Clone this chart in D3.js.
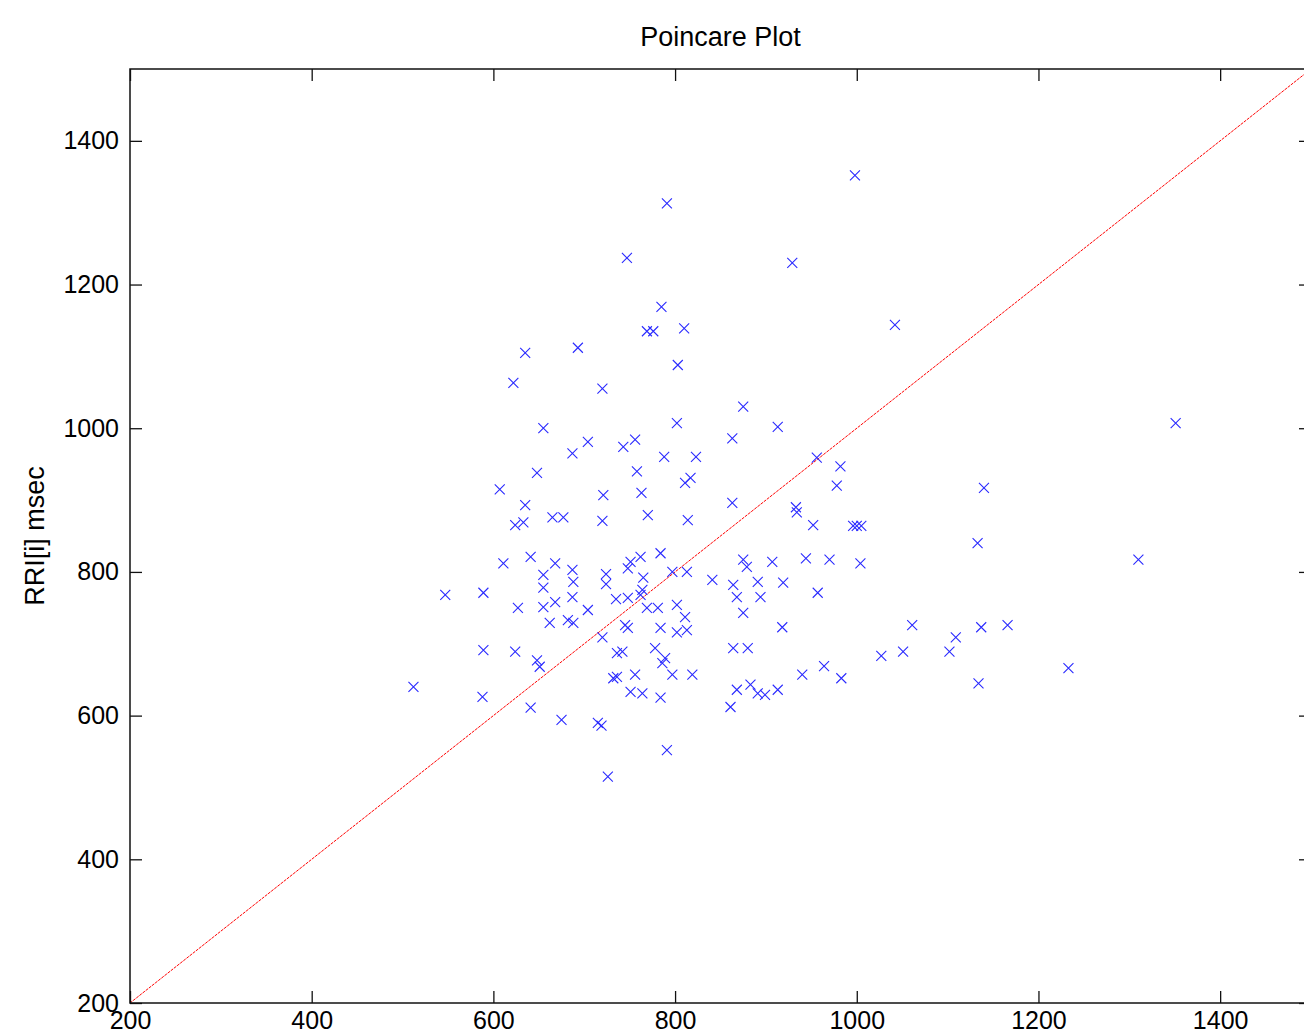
<!DOCTYPE html>
<html>
<head>
<meta charset="utf-8">
<script src="https://cdn.jsdelivr.net/npm/d3@7"></script>
<style>
body { margin: 0; background: #fff; }
svg { display: block; }
text { font-family: "Liberation Sans", Arial, Helvetica, sans-serif; fill: #000; }
</style>
</head>
<body>
<svg width="1304" height="1029"></svg>
<script>
// RR interval pairs: rrI = RRI[i-1] (x), rrNext = RRI[i] (y), msec
var rrI = [998,791,747,929,785,1042,769,776,810,635,
    693,803,622,720,875,802,655,913,1351,704,
    756,863,743,687,788,823,956,982,758,648,
    817,811,978,607,1140,763,721,863,635,933,
    934,770,665,677,624,633,720,814,952,996,
    1000,1005,1133,641,611,668,784,762,751,944,
    970,875,879,907,1004,1310,748,687,724,724,
    797,813,655,688,655,841,864,891,919,765,
    764,762,748,735,687,668,704,547,589,627,
    655,769,781,802,868,894,957,875,811,813,
    802,784,745,748,662,682,688,720,918,1061,
    1109,1137,1166,736,589,624,648,651,742,778,
    789,786,864,880,1027,1051,1102,1233,964,940,
    983,512,588,732,736,756,797,819,751,764,
    784,868,883,891,899,913,861,1134,641,675,
    715,719,791,726];
var rrNext = [1352,1313,1237,1230,1169,1144,1135,1135,1139,1105,
    1112,1088,1063,1055,1030,1007,1000,1002,1007,981,
    984,986,974,965,960,960,959,947,940,938,
    931,924,920,915,917,910,907,896,893,890,
    883,879,876,876,865,869,871,872,865,864,
    864,864,840,821,812,812,826,821,814,819,
    817,817,807,814,812,817,805,803,797,783,
    800,800,796,786,778,789,782,786,785,792,
    775,768,764,762,765,758,747,768,771,750,
    751,750,750,754,765,765,771,743,737,719,
    716,722,726,722,729,733,729,709,723,726,
    709,723,726,687,691,689,677,668,689,694,
    680,673,694,694,683,689,689,666,669,657,
    652,640,626,652,654,657,657,657,633,631,
    625,636,643,631,629,636,612,645,611,594,
    590,586,552,515];
var xTicks = [200, 400, 600, 800, 1000, 1200, 1400];
var yTicks = [200, 400, 600, 800, 1000, 1200, 1400];
var identity = [200, 1500];

var svg = d3.select("svg");
var plotL = 130, plotT = 69, plotR = 1311, plotB = 1003;

var x = d3.scaleLinear().domain([200, 1500]).range([plotL, plotR]);
var y = d3.scaleLinear().domain([200, 1500]).range([plotB, plotT]);
var fmt = d3.format("d");

var points = rrI.map(function (d, i) { return { x: d, y: rrNext[i] }; });

// identity line
svg.append("line")
    .attr("x1", x(identity[0])).attr("y1", y(identity[0]))
    .attr("x2", x(identity[1])).attr("y2", y(identity[1]))
    .attr("stroke", "#ff0000").attr("stroke-width", 1)
    .attr("stroke-dasharray", "3,1");

// x markers
svg.append("g").selectAll("path")
    .data(points)
    .enter().append("path")
    .attr("transform", function (d) { return "translate(" + x(d.x) + "," + y(d.y) + ")"; })
    .attr("d", "M-5,-5L5,5M-5,5L5,-5")
    .attr("fill", "none")
    .attr("stroke", "#2a2aff")
    .attr("stroke-width", 1.1);

// axes, ticks pointing inward
function styleAxis(g) {
    g.select(".domain").remove();
    g.selectAll(".tick line").attr("stroke", "#111").attr("stroke-width", 1.3);
    g.selectAll(".tick text").attr("font-size", 25).attr("fill", "#000").attr("font-family", null);
}

svg.append("g").attr("transform", "translate(0," + plotB + ")")
    .call(d3.axisBottom(x).tickValues(xTicks).tickFormat(fmt).tickSize(-12).tickSizeOuter(0).tickPadding(8))
    .call(styleAxis);
svg.append("g").attr("transform", "translate(" + plotL + ",0)")
    .call(d3.axisLeft(y).tickValues(yTicks).tickFormat(fmt).tickSize(-12).tickSizeOuter(0).tickPadding(11))
    .call(styleAxis);
svg.append("g").attr("transform", "translate(0," + plotT + ")")
    .call(d3.axisTop(x).tickValues(xTicks).tickSize(-12).tickSizeOuter(0).tickFormat(""))
    .call(styleAxis);
svg.append("g").attr("transform", "translate(" + plotR + ",0)")
    .call(d3.axisRight(y).tickValues(yTicks).tickSize(-12).tickSizeOuter(0).tickFormat(""))
    .call(styleAxis);

// frame
svg.append("rect")
    .attr("x", plotL).attr("y", plotT)
    .attr("width", plotR - plotL).attr("height", plotB - plotT)
    .attr("fill", "none").attr("stroke", "#111").attr("stroke-width", 1.5);

// title and label
svg.append("text")
    .attr("x", (plotL + plotR) / 2).attr("y", 46)
    .attr("text-anchor", "middle").attr("font-size", 27)
    .text("Poincare Plot");

svg.append("text")
    .attr("transform", "translate(44," + ((plotT + plotB) / 2) + ") rotate(-90)")
    .attr("text-anchor", "middle").attr("font-size", 27)
    .text("RRI[i] msec");
</script>
</body>
</html>
